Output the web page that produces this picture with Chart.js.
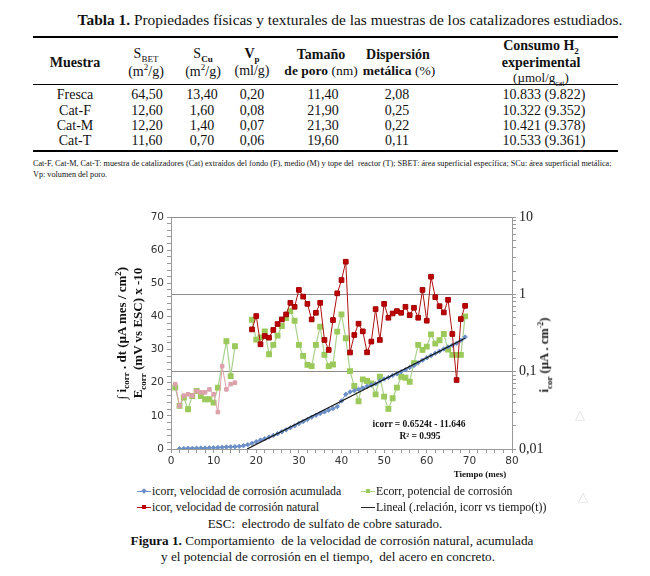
<!DOCTYPE html>
<html>
<head>
<meta charset="utf-8">
<script src="https://cdn.jsdelivr.net/npm/chart.js@4.4.1/dist/chart.umd.min.js"></script>
<style>
  body { margin: 0; background: #fff; }
  #pagina { position: relative; width: 650px; height: 576px; overflow: hidden; font-family: "Liberation Serif", serif; color: #111; }
  .t { position: absolute; white-space: nowrap; }
  .c { transform: translate(-50%, -50%); text-align: center; }
  .rot { transform: translate(-50%, -50%) rotate(-90deg); text-align: center; }
  .regla { position: absolute; left: 33px; width: 585px; background: #000; }
  #grafico { position: absolute; left: 100px; top: 200px; }
  .leg { position: absolute; font-size: 11.8px; white-space: nowrap; }
  .mk { display: inline-block; position: relative; width: 14px; height: 10px; margin-right: 1px; vertical-align: -1px; }
  .mk .ln { position: absolute; left: 0; right: 0; top: 5px; height: 1px; }
  .mk .pt { position: absolute; left: 5px; top: 3px; width: 4px; height: 4px; }
</style>
</head>
<body>
<div id="pagina">
  <!-- ---- tabla 1 -->
  <div class="t c" style="left:350px;top:20px;font-size:15.4px;"><b>Tabla 1.</b> Propiedades físicas y texturales de las muestras de los catalizadores estudiados.</div>
  <div class="regla" style="top:36px;height:2px;"></div>
  <div class="regla" style="top:84px;height:1px;"></div>
  <div class="regla" style="top:150px;height:2px;"></div>

  <div class="t c" style="left:75px;top:63px;font-size:14px;"><b>Muestra</b></div>
  <div class="t c" style="left:146px;top:55px;font-size:14px;">S<sub style="font-size:9px">BET</sub></div>
  <div class="t c" style="left:146px;top:71px;font-size:14px;">(m<sup style="font-size:9px">2</sup>/g)</div>
  <div class="t c" style="left:203px;top:55px;font-size:14px;">S<sub style="font-size:9px"><b>Cu</b></sub></div>
  <div class="t c" style="left:203px;top:71px;font-size:14px;">(m<sup style="font-size:9px">2</sup>/g)</div>
  <div class="t c" style="left:252px;top:55px;font-size:14px;"><b>V<sub style="font-size:9px">p</sub></b></div>
  <div class="t c" style="left:252px;top:71px;font-size:14px;">(ml/g)</div>
  <div class="t c" style="left:321px;top:55px;font-size:14px;"><b>Tamaño</b></div>
  <div class="t c" style="left:321px;top:71px;font-size:13.5px;"><b>de poro</b> (nm)</div>
  <div class="t c" style="left:398px;top:55px;font-size:14px;"><b>Dispersión</b></div>
  <div class="t c" style="left:399px;top:71px;font-size:13.5px;"><b>metálica</b> (%)</div>
  <div class="t c" style="left:541px;top:47px;font-size:14px;"><b>Consumo H<sub style="font-size:9px">2</sub></b></div>
  <div class="t c" style="left:541px;top:63px;font-size:14px;"><b>experimental</b></div>
  <div class="t c" style="left:541px;top:79px;font-size:13px;">(µmol/g<sub style="font-size:8px">cat</sub>)</div>

  <div id="filas"></div>

  <div class="t" style="left:33px;top:159px;font-size:8.2px;">Cat-F, Cat-M, Cat-T: muestra de catalizadores (Cat) extraídos del fondo (F), medio (M) y tope del&nbsp; reactor (T); SBET: área superficial específica; SCu: área superficial metálica;</div>
  <div class="t" style="left:33px;top:170px;font-size:8.2px;">Vp: volumen del poro.</div>

  <!-- ---- figura 1 -->
  <canvas id="grafico" width="470" height="280"></canvas>

  <div class="t rot" style="left:122px;top:333px;font-size:13px;font-weight:bold;">∫ i<sub style="font-size:9px">corr</sub> . dt (µA mes / cm<sup style="font-size:9px">2</sup>)</div>
  <div class="t rot" style="left:139px;top:333px;font-size:13px;font-weight:bold;">E<sub style="font-size:9px">corr</sub> (mV vs ESC) x -10</div>
  <div class="t rot" style="left:545px;top:355px;font-size:12.5px;font-weight:bold;">i<sub style="font-size:9px">cor</sub> (µA . cm<sup style="font-size:8px">-2</sup>)</div>

  <div class="t c" style="left:419px;top:424px;font-size:9.5px;font-weight:bold;">icorr = 0.6524t - 11.646</div>
  <div class="t c" style="left:420px;top:436px;font-size:9.5px;font-weight:bold;">R² = 0.995</div>
  <div class="t c" style="left:480px;top:474px;font-size:9px;font-weight:bold;">Tiempo (mes)</div>
  <div class="t c" style="left:580px;top:415px;font-size:13px;color:#ddd;">△</div>
  <div class="t c" style="left:583px;top:497px;font-size:13px;color:#ddd;">△</div>

  <div class="leg" style="left:137px;top:484px;"><span class="mk"><span class="ln" style="background:#6b8fc7"></span><span class="pt" style="background:#6b8fc7;transform:rotate(45deg);"></span></span>icorr, velocidad de corrosión acumulada</div>
  <div class="leg" style="left:361px;top:484px;"><span class="mk"><span class="ln" style="background:#a9d18e"></span><span class="pt" style="background:#9bc95b;"></span></span>Ecorr, potencial de corrosión</div>
  <div class="leg" style="left:137px;top:500px;"><span class="mk"><span class="ln" style="background:#b01010"></span><span class="pt" style="background:#c00000;"></span></span>icor, velocidad de corrosión natural</div>
  <div class="leg" style="left:361px;top:500px;"><span class="mk"><span class="ln" style="background:#222"></span></span>Lineal (.relación, icorr vs tiempo(t))</div>

  <div class="t c" style="left:325px;top:524px;font-size:13px;">ESC:&nbsp; electrodo de sulfato de cobre saturado.</div>
  <div class="t c" style="left:332px;top:541px;font-size:13.2px;"><b>Figura 1.</b> Comportamiento&nbsp; de la velocidad de corrosión natural, acumulada</div>
  <div class="t c" style="left:328px;top:557px;font-size:13.2px;">y el potencial de corrosión en el tiempo,&nbsp; del acero en concreto.</div>
</div>

<script>
// ---- datos de la tabla 1
const muestras = ['Fresca', 'Cat-F', 'Cat-M', 'Cat-T'];
const sBet = ['64,50', '12,60', '12,20', '11,60'];
const sCu = ['13,40', '1,60', '1,40', '0,70'];
const vPoro = ['0,20', '0,08', '0,07', '0,06'];
const tamanoPoro = ['11,40', '21,90', '21,30', '19,60'];
const dispersion = ['2,08', '0,25', '0,22', '0,11'];
const consumoH2 = ['10.833 (9.822)', '10.322 (9.352)', '10.421 (9.378)', '10.533 (9.361)'];

// ---- datos de la figura 1 (tiempo en meses)
const tiempoAcum = [2, 3, 4, 5, 6, 7, 8, 9, 10, 11, 12, 13, 14, 15, 16, 17, 18, 19, 20, 21, 22, 23, 24, 25, 26, 27, 28, 29, 30, 31, 32, 33, 34, 35, 36, 37, 38, 39, 40, 41, 42, 43, 44, 45, 46, 47, 48, 49, 50, 51, 52, 53, 54, 55, 56, 57, 58, 59, 60, 61, 62, 63, 64, 65, 66, 67, 68, 69];
const icorrAcum = [0.1, 0.15, 0.2, 0.2, 0.25, 0.3, 0.3, 0.35, 0.4, 0.45, 0.5, 0.6, 0.65, 0.7, 0.8, 1.0, 1.3, 1.7, 2.2, 2.7, 3.1, 3.6, 4.1, 4.6, 5.2, 5.8, 6.4, 7.0, 7.7, 8.3, 8.9, 9.6, 10.2, 10.7, 11.2, 11.7, 12.2, 12.8, 14.5, 16.5, 17.2, 17.6, 18.0, 18.4, 18.9, 19.3, 19.7, 20.5, 21.1, 21.6, 22.2, 22.7, 23.3, 23.9, 24.6, 25.2, 26.0, 26.8, 27.5, 28.2, 28.9, 29.5, 30.2, 30.8, 31.3, 31.9, 32.8, 33.8];

const tiempoEcorr = [1, 2, 3, 4, 5, 6, 7, 8, 9, 10, 11, 13, 14, 15, 17, 19, 20, 21, 22, 23, 24, 25, 26, 27, 28, 29, 30, 31, 32, 33, 34, 35, 36, 37, 38, 39, 40, 41, 42, 43, 44, 45, 46, 47, 48, 49, 50, 51, 52, 53, 54, 55, 56, 57, 58, 59, 60, 61, 62, 63, 64, 65, 66, 67, 68, 69];
const ecorr = [18.5, 13, 15.5, 12, 16, 17.5, 16, 15, 15, 14, 18.5, 32.5, 22, 31, null, 39, 33, 33.7, 35.5, 28.6, 31.4, 34.2, 37.1, 39.5, 41.6, 38.7, 31.4, 28.1, 25.4, 25, 31.4, 36.9, 28.4, 25, 25.5, 35.4, 40.6, 33.4, 23.5, 19, 14.4, 21, 20.5, 19.8, 16.5, 21.8, 15.8, 12.1, 15.3, 18.5, 21.8, 21.5, 20.3, 25.9, 31.4, 29.9, 30.9, 34.6, 31.8, 32.8, 34.7, 30, 28.4, 28.4, 28.4, 40];

// icor natural en µA/cm2 (eje derecho, logarítmico)
const tiempoIcor = [1, 2, 3, 4, 5, 6, 7, 8, 9, 10, 11, 12, 13, 14, 15, 17, 19, 20, 21, 22, 23, 24, 25, 26, 27, 28, 29, 30, 31, 32, 33, 34, 35, 36, 37, 38, 39, 40, 41, 42, 43, 44, 45, 46, 47, 48, 49, 50, 51, 52, 53, 54, 55, 56, 57, 58, 59, 60, 61, 62, 63, 64, 65, 66, 67, 68, 69];
const icorNatural = [0.069, 0.036, 0.049, 0.051, 0.049, 0.056, 0.054, 0.054, 0.059, 0.051, 0.030, 0.118, 0.059, 0.069, 0.072, null, 0.352, 0.524, 0.226, 0.289, 0.275, 0.346, 0.413, 0.474, 0.550, 0.776, 0.690, 1.14, 0.935, 0.753, 0.474, 0.577, 0.776, 0.257, 0.191, 0.465, 1.03, 1.53, 2.64, 0.177, 0.298, 0.417, 0.332, 0.178, 0.245, 0.644, 0.257, 0.753, 0.498, 0.566, 0.607, 0.577, 0.690, 0.538, 0.670, 0.498, 1.14, 0.456, 1.69, 0.918, 0.703, 0.583, 0.849, 0.307, 0.078, 0.479, 0.710];

// recta de tendencia (extremos)
const tiempoLineal = [17.85, 69];
const lineal = [0, 33.4];

const etiquetasLog = { '10': '10', '1': '1', '0.1': '0,1', '0.01': '0,01' };

// ---- arma las filas de la tabla
const columnasX = [75, 147, 202, 252, 323, 397, 544];
const filasY = [95, 111, 126, 141];
let html = '';
muestras.forEach((m, i) => {
    const celdas = [m, sBet[i], sCu[i], vPoro[i], tamanoPoro[i], dispersion[i], consumoH2[i]];
    celdas.forEach((txt, j) => {
        html += `<div class="t c" style="left:${columnasX[j]}px;top:${filasY[i]}px;font-size:14px;">${txt}</div>`;
    });
});
document.getElementById('filas').innerHTML = html;

// ---- gráfico
const juntar = (xs, ys) => xs.map((x, i) => ({ x: x, y: ys[i] }));
const esPotencia10 = v => Math.abs(Math.log10(v) - Math.round(Math.log10(v))) < 1e-6;
const rosa = '#dca0ab';
const rojo = '#c00000';

const ctx = document.getElementById('grafico').getContext('2d');
let grafico = new Chart(ctx, {
    type: 'line',
    data: {
        datasets: [{
            label: 'Lineal (.relación, icorr vs tiempo(t))',
            data: juntar(tiempoLineal, lineal),
            yAxisID: 'y',
            borderColor: '#111',
            borderWidth: 1.2,
            pointRadius: 0,
            order: 0
        }, {
            label: 'icor, velocidad de corrosión natural',
            data: juntar(tiempoIcor, icorNatural),
            yAxisID: 'y2',
            borderColor: '#b01010',
            borderWidth: 1,
            pointStyle: 'rect',
            pointRadius: tiempoIcor.map(t => t < 16 ? 2.5 : 3.3),
            pointBackgroundColor: tiempoIcor.map(t => t < 16 ? rosa : rojo),
            pointBorderColor: tiempoIcor.map(t => t < 16 ? rosa : '#a00000'),
            segment: { borderColor: s => s.p0.parsed.x < 16 ? rosa : '#b01010' },
            spanGaps: false,
            order: 1
        }, {
            label: 'icorr, velocidad de corrosión acumulada',
            data: juntar(tiempoAcum, icorrAcum),
            yAxisID: 'y',
            borderColor: '#6b8fc7',
            borderWidth: 1,
            pointStyle: 'rectRot',
            pointRadius: 2.2,
            pointBackgroundColor: '#6b8fc7',
            pointBorderColor: '#6b8fc7',
            order: 2
        }, {
            label: 'Ecorr, potencial de corrosión',
            data: juntar(tiempoEcorr, ecorr),
            yAxisID: 'y',
            borderColor: '#a9d18e',
            borderWidth: 1.2,
            pointStyle: 'rect',
            pointRadius: 3.3,
            pointBackgroundColor: '#9bc95b',
            pointBorderColor: '#9bc95b',
            spanGaps: false,
            order: 3
        }]
    },
    options: {
        responsive: false,
        devicePixelRatio: 1,
        animation: false,
        layout: { padding: { top: 17, left: 0, right: 0, bottom: 0 } },
        plugins: { legend: { display: false }, tooltip: { enabled: false } },
        scales: {
            x: {
                type: 'linear',
                min: 0, max: 80,
                afterFit: s => { s.height = 31; },
                ticks: {
                    stepSize: 2, autoSkip: false, maxRotation: 0, padding: 2,
                    color: '#333', font: { family: 'DejaVu Sans', size: 10.5 },
                    callback: v => v % 10 === 0 ? v : ''
                },
                grid: { drawOnChartArea: false, tickLength: 4, tickColor: '#999' },
                border: { color: '#999' }
            },
            y: {
                position: 'left',
                min: 0, max: 70,
                afterFit: s => { s.width = 71; },
                ticks: {
                    stepSize: 2, autoSkip: false, padding: 3,
                    color: '#333', font: { family: 'DejaVu Sans', size: 10.5 },
                    callback: v => v % 10 === 0 ? v : ''
                },
                grid: { drawOnChartArea: false, tickLength: 4, tickColor: '#999' },
                border: { color: '#999' }
            },
            y2: {
                type: 'logarithmic',
                position: 'right',
                min: 0.01, max: 10,
                afterFit: s => { s.width = 58; },
                ticks: {
                    autoSkip: false, padding: 3,
                    color: '#222', font: { family: 'Liberation Serif', size: 14 },
                    callback: v => esPotencia10(v) ? etiquetasLog[String(Math.pow(10, Math.round(Math.log10(v))))] : ''
                },
                grid: {
                    tickLength: 4, tickColor: '#999',
                    color: c => (c.tick && esPotencia10(c.tick.value)) ? '#8c8c8c' : 'rgba(0,0,0,0)'
                },
                border: { color: '#999' }
            }
        }
    }
});
</script>
</body>
</html>
